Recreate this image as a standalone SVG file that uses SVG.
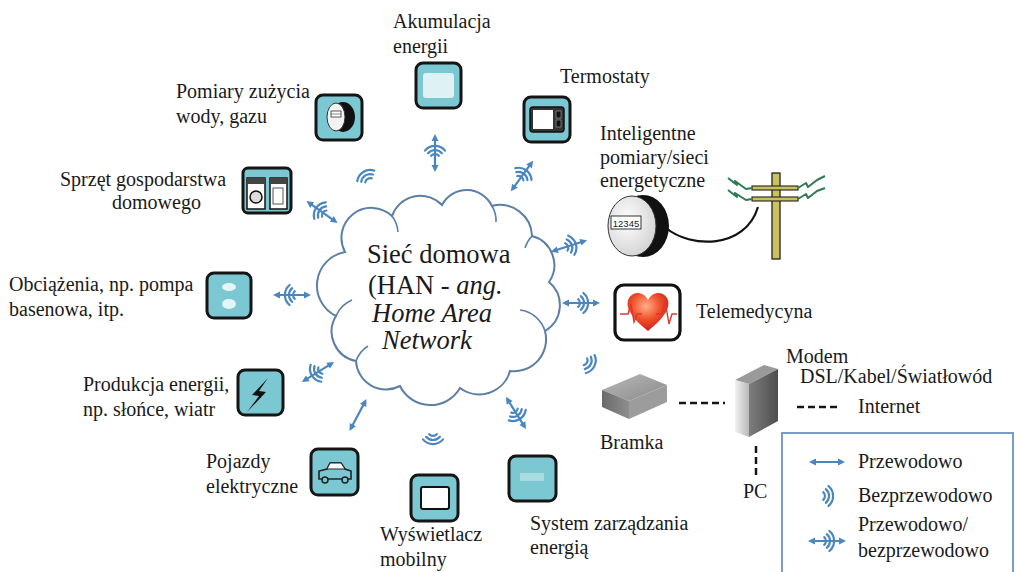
<svg xmlns="http://www.w3.org/2000/svg" width="1015" height="572" viewBox="0 0 1015 572">
  <style>
    .t { font-family: "Liberation Serif", "Times New Roman", serif; font-size: 20px; fill: #1a1a1a; }
    .c { font-family: "Liberation Serif", "Times New Roman", serif; font-size: 26.5px; fill: #1a1a1a; }
    .i { font-style: italic; }
    .tile { fill: #7cc8d2; stroke: #151515; stroke-width: 3; }
    .sym { fill: none; stroke: #4a86c0; stroke-width: 2.2; stroke-linecap: round; }
    .symf { fill: #4a86c0; stroke: none; }
    .dash { stroke: #151515; stroke-width: 2.5; stroke-dasharray: 7 4; fill: none; }
    .bolt { fill: none; stroke: #2f7a55; stroke-width: 2; stroke-linejoin: round; }
  </style>
  <defs>
    <!-- wireless: three arcs radiating towards +x -->
    <g id="wl">
      <path class="sym" d="M-2.8,-3.8 A5,5 0 0 1 -2.8,3.8"/>
      <path class="sym" d="M-0.2,-6.9 A9,9 0 0 1 -0.2,6.9"/>
      <path class="sym" d="M2.4,-10 A13,13 0 0 1 2.4,10"/>
    </g>
    <!-- wired: line with arrowheads at both ends -->
    <g id="w">
      <line class="sym" x1="-13" y1="0" x2="13" y2="0"/>
      <polygon class="symf" points="-18,0 -11,-3.5 -11,3.5"/>
      <polygon class="symf" points="18,0 11,-3.5 11,3.5"/>
    </g>
    <!-- wired or wireless: line, arcs and arrowheads -->
    <g id="wlw">
      <line class="sym" x1="-14" y1="0" x2="14" y2="0"/>
      <use href="#wl" x="0" y="0"/>
      <polygon class="symf" points="-19,0 -12,-3.5 -12,3.5"/>
      <polygon class="symf" points="19,0 12,-3.5 12,3.5"/>
    </g>
    <radialGradient id="heartG" cx="0.45" cy="0.35" r="0.7">
      <stop offset="0" stop-color="#ffb08a"/>
      <stop offset="0.5" stop-color="#f0502a"/>
      <stop offset="1" stop-color="#c41818"/>
    </radialGradient>
    <linearGradient id="boxTop" x1="0" y1="0" x2="1" y2="1">
      <stop offset="0" stop-color="#b9b9b9"/>
      <stop offset="1" stop-color="#8a8a8a"/>
    </linearGradient>
    <linearGradient id="boxSide" x1="0" y1="0" x2="1" y2="0">
      <stop offset="0" stop-color="#6a6a6a"/>
      <stop offset="1" stop-color="#8e8e8e"/>
    </linearGradient>
    <linearGradient id="towerSide" x1="0" y1="0" x2="1" y2="0">
      <stop offset="0" stop-color="#7d7d7d"/>
      <stop offset="1" stop-color="#4e4e4e"/>
    </linearGradient>
    <linearGradient id="towerFront" x1="0" y1="0" x2="1" y2="0">
      <stop offset="0" stop-color="#f2f2f2"/>
      <stop offset="1" stop-color="#b8b8b8"/>
    </linearGradient>
    <radialGradient id="meterFace" cx="0.4" cy="0.4" r="0.7">
      <stop offset="0" stop-color="#ffffff"/>
      <stop offset="1" stop-color="#cfcfcf"/>
    </radialGradient>
  </defs>

  <rect width="1015" height="572" fill="#ffffff"/>

  <!-- central home network cloud -->
  <g id="han">
    <path d="M345,252 A30,30 0 0 1 392,216 A30,30 0 0 1 442,205 A28,28 0 0 1 492,206 A32,32 0 0 1 532,236 A30,30 0 0 1 549,282 A30,30 0 0 1 545,331 A32,32 0 0 1 510,371 A32,32 0 0 1 460,388 A34,34 0 0 1 400,386 A30,30 0 0 1 356,361 A30,30 0 0 1 336,316 A34,34 0 0 1 345,252 Z" fill="#ffffff" stroke="#5b7fa6" stroke-width="2"/>
    <path d="M392,216 A30,30 0 0 1 398,232" fill="none" stroke="#5b7fa6" stroke-width="1.6"/>
    <path d="M492,206 A28,28 0 0 1 496,222" fill="none" stroke="#5b7fa6" stroke-width="1.6"/>
    <path d="M532,236 A30,30 0 0 0 525,248" fill="none" stroke="#5b7fa6" stroke-width="1.6"/>
    <path d="M545,331 A30,30 0 0 0 520,310" fill="none" stroke="#5b7fa6" stroke-width="1.6"/>
    <path d="M356,361 A30,30 0 0 1 368,346" fill="none" stroke="#5b7fa6" stroke-width="1.6"/>
    <path d="M336,316 A30,30 0 0 1 352,300" fill="none" stroke="#5b7fa6" stroke-width="1.6"/>
    <text class="c" x="367" y="263">Sieć domowa</text>
    <text class="c" x="368" y="294">(HAN - <tspan class="i">ang.</tspan></text>
    <text class="c i" x="372" y="322">Home Area</text>
    <text class="c i" x="382" y="349">Network</text>
  </g>

  <!-- links between the cloud and the devices -->
  <g id="links">
    <use href="#wlw" transform="translate(435,153) rotate(-90)"/>
    <use href="#wl" transform="translate(367,178) rotate(-122)"/>
    <use href="#wlw" transform="translate(322,212) rotate(-145)"/>
    <use href="#wlw" transform="translate(292,295) rotate(180)"/>
    <use href="#wlw" transform="translate(318,372) rotate(148)"/>
    <use href="#w" transform="translate(358,415) rotate(118)"/>
    <use href="#wl" transform="translate(433,437) rotate(90)"/>
    <use href="#wlw" transform="translate(516,413) rotate(58)"/>
    <use href="#wl" transform="translate(588,363) rotate(26)"/>
    <use href="#wlw" transform="translate(581,303)"/>
    <use href="#wlw" transform="translate(569,246) rotate(-18)"/>
    <use href="#wlw" transform="translate(522,176) rotate(-54)"/>
    <!-- meter to grid cable -->
    <path d="M666,228 C690,248 745,250 758,207" fill="none" stroke="#111" stroke-width="2.2"/>
    <!-- gateway, modem, pc, internet -->
    <line class="dash" x1="679" y1="403" x2="725" y2="403"/>
    <line class="dash" x1="756" y1="446" x2="756" y2="477"/>
    <line class="dash" x1="797" y1="407" x2="839" y2="407"/>
  </g>

  <!-- energy storage -->
  <g id="akumulacja">
    <rect class="tile" x="416" y="63" width="45" height="45" rx="7"/>
    <rect x="423" y="73" width="31" height="25" rx="3" fill="#ffffff" opacity="0.75"/>
    <text class="t" x="393" y="28">Akumulacja</text>
    <text class="t" x="393" y="53">energii</text>
  </g>

  <!-- thermostats -->
  <g id="termostaty">
    <rect class="tile" x="524" y="97" width="46" height="45" rx="7"/>
    <rect x="530" y="107" width="34" height="25" rx="3" fill="#333" stroke="#111" stroke-width="1.5"/>
    <rect x="533" y="110" width="20" height="19" fill="#ffffff"/>
    <rect x="556" y="111" width="5" height="7" fill="#111" stroke="#aaa" stroke-width="0.6"/>
    <rect x="556" y="120" width="5" height="7" fill="#111" stroke="#aaa" stroke-width="0.6"/>
    <text class="t" x="560" y="83">Termostaty</text>
  </g>

  <!-- water / gas metering -->
  <g id="pomiary">
    <rect class="tile" x="316" y="95" width="46" height="45" rx="7"/>
    <ellipse cx="343" cy="117" rx="12" ry="15" fill="#111"/>
    <ellipse cx="336" cy="117" rx="9" ry="14" fill="#f2f2f2" stroke="#333" stroke-width="1"/>
    <rect x="331" y="111" width="10" height="6" fill="#fff" stroke="#333" stroke-width="0.8"/>
    <line x1="331" y1="114" x2="341" y2="114" stroke="#333" stroke-width="0.6"/>
    <text class="t" x="176" y="98">Pomiary zużycia</text>
    <text class="t" x="176" y="123">wody, gazu</text>
  </g>

  <!-- household appliances -->
  <g id="sprzet">
    <rect class="tile" x="243" y="168" width="48" height="45" rx="5"/>
    <rect x="247" y="178" width="18" height="31" fill="#ffffff" stroke="#111" stroke-width="1.5"/>
    <rect x="270" y="178" width="17" height="31" fill="#ffffff" stroke="#111" stroke-width="1.5"/>
    <rect x="247" y="178" width="18" height="6" fill="#444"/>
    <rect x="270" y="178" width="17" height="6" fill="#444"/>
    <circle cx="256" cy="197" r="6" fill="#ddd" stroke="#111" stroke-width="1.5"/>
    <rect x="273" y="188" width="10" height="16" fill="none" stroke="#555" stroke-width="1"/>
    <text class="t" x="60" y="186">Sprzęt gospodarstwa</text>
    <text class="t" x="112" y="209">domowego</text>
  </g>

  <!-- loads -->
  <g id="obciazenia">
    <rect class="tile" x="207" y="273" width="44" height="45" rx="7"/>
    <ellipse cx="229" cy="287" rx="7" ry="4" fill="#ffffff" opacity="0.8"/>
    <ellipse cx="229" cy="304" rx="7" ry="5" fill="#ffffff" opacity="0.8"/>
    <text class="t" x="9" y="291">Obciążenia, np. pompa</text>
    <text class="t" x="9" y="316">basenowa, itp.</text>
  </g>

  <!-- energy production -->
  <g id="produkcja">
    <rect class="tile" x="238" y="370" width="45" height="45" rx="7"/>
    <polygon points="268,378 252,395 259,396 247,412 266,392 259,391" fill="#111"/>
    <text class="t" x="83" y="391">Produkcja energii,</text>
    <text class="t" x="83" y="416">np. słońce, wiatr</text>
  </g>

  <!-- electric vehicles -->
  <g id="pojazdy">
    <rect class="tile" x="311" y="449" width="47" height="46" rx="7"/>
    <path d="M319,479 L319,471 L327,469 L330,463 L341,463 L345,469 L351,471 L351,479 Z" fill="none" stroke="#222" stroke-width="1.6"/>
    <path d="M330,463 L341,463 L345,469 L327,469 Z" fill="#fff" stroke="#222" stroke-width="1"/>
    <circle cx="325" cy="480" r="3" fill="#7cc8d2" stroke="#222" stroke-width="1.5"/>
    <circle cx="345" cy="480" r="3" fill="#7cc8d2" stroke="#222" stroke-width="1.5"/>
    <text class="t" x="206" y="468">Pojazdy</text>
    <text class="t" x="206" y="493">elektryczne</text>
  </g>

  <!-- mobile display -->
  <g id="wyswietlacz">
    <rect class="tile" x="411" y="475" width="47" height="46" rx="7"/>
    <rect x="421" y="487" width="28" height="22" rx="2" fill="#ffffff" stroke="#111" stroke-width="2"/>
    <text class="t" x="380" y="541">Wyświetlacz</text>
    <text class="t" x="380" y="566">mobilny</text>
  </g>

  <!-- energy management system -->
  <g id="system">
    <rect class="tile" x="509" y="456" width="47" height="45" rx="7"/>
    <rect x="520" y="473" width="24" height="8" fill="#ffffff" opacity="0.35"/>
    <text class="t" x="530" y="530">System zarządzania</text>
    <text class="t" x="530" y="554">energią</text>
  </g>

  <!-- smart metering / grid -->
  <g id="smart-grid">
    <ellipse cx="643" cy="226" rx="26" ry="31" fill="#111"/>
    <ellipse cx="632" cy="226" rx="24" ry="30" fill="url(#meterFace)" stroke="#333" stroke-width="1"/>
    <rect x="611" y="216" width="30" height="13" fill="#ffffff" stroke="#333" stroke-width="1"/>
    <text x="626" y="226.5" text-anchor="middle" font-family="Liberation Sans, Arial, sans-serif" font-size="9.5" fill="#222">12345</text>
    <!-- pole -->
    <rect x="772" y="173" width="8" height="86" fill="#c9c25c" stroke="#222" stroke-width="1.3"/>
    <rect x="752" y="186" width="46" height="4" fill="#c9c25c" stroke="#222" stroke-width="1.1"/>
    <rect x="752" y="197" width="46" height="4" fill="#c9c25c" stroke="#222" stroke-width="1.1"/>
    <path class="bolt" d="M728,178 L737,185 L735,181 L746,189 L752,188"/>
    <path class="bolt" d="M728,190 L737,197 L735,193 L746,200 L752,199"/>
    <path class="bolt" d="M798,188 L806,183 L808,187 L817,180 L825,176"/>
    <path class="bolt" d="M798,199 L806,194 L808,198 L817,191 L825,188"/>
    <text class="t" x="600" y="140">Inteligentne</text>
    <text class="t" x="600" y="164">pomiary/sieci</text>
    <text class="t" x="600" y="187">energetyczne</text>
  </g>

  <!-- telemedicine -->
  <g id="telemedycyna">
    <rect x="615" y="285" width="65" height="55" rx="9" fill="#ffffff" stroke="#111" stroke-width="3.2"/>
    <path d="M648,331 C632,318 624,307 629,298 C634,290 644,292 648,300 C652,292 662,290 667,298 C672,307 664,318 648,331 Z" fill="url(#heartG)"/>
    <path d="M620,314 L628,314 L631,304 L634,322 L637,314 L642,314" fill="none" stroke="#d83a30" stroke-width="1.4"/>
    <path d="M656,314 L662,314 L665,301 L669,324 L672,314 L677,314" fill="none" stroke="#d83a30" stroke-width="1.4"/>
    <text class="t" x="696" y="318">Telemedycyna</text>
  </g>

  <!-- gateway -->
  <g id="bramka">
    <polygon points="602,390 640,374 667,385 629,401" fill="url(#boxTop)"/>
    <polygon points="602,390 629,401 629,419 602,407" fill="url(#boxSide)"/>
    <polygon points="629,401 667,385 667,402 629,419" fill="#9c9c9c"/>
    <text class="t" x="600" y="449">Bramka</text>
  </g>

  <!-- modem -->
  <g id="modem">
    <polygon points="735,380 764,365 778,369 749,384" fill="#9a9a9a"/>
    <polygon points="749,384 778,369 778,421 749,437" fill="url(#towerSide)"/>
    <polygon points="735,380 749,384 749,437 735,432" fill="url(#towerFront)"/>
    <text class="t" x="786" y="363">Modem</text>
    <text class="t" x="800" y="383">DSL/Kabel/Światłowód</text>
    <text class="t" x="858" y="413">Internet</text>
  </g>

  <!-- pc -->
  <g id="pc">
    <text class="t" x="743" y="498">PC</text>
  </g>

  <!-- legend -->
  <g id="legend">
    <rect x="782" y="433" width="231" height="142" fill="#ffffff" stroke="#7a9ccc" stroke-width="2"/>
    <use href="#w" transform="translate(827,462)"/>
    <text class="t" x="858" y="468">Przewodowo</text>
    <use href="#wl" transform="translate(826,496)"/>
    <text class="t" x="858" y="502">Bezprzewodowo</text>
    <use href="#wlw" transform="translate(827,541)"/>
    <text class="t" x="858" y="531">Przewodowo/</text>
    <text class="t" x="858" y="557">bezprzewodowo</text>
  </g>
</svg>
